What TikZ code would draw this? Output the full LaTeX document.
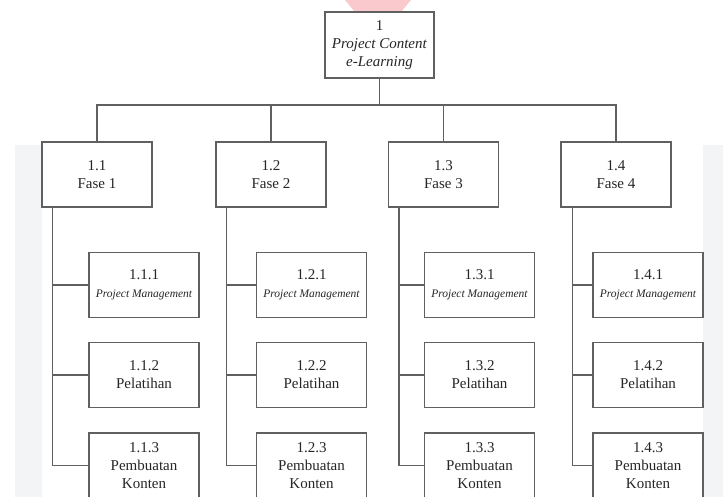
\documentclass[tikz,border=0pt]{standalone}
\usepackage{fontspec}
\setmainfont{Liberation Serif}
\usepackage{tikz}
\usepackage{color}

\definecolor{wmgray}{RGB}{243,244,246}
\definecolor{wmpink}{RGB}{249,201,205}
\definecolor{linegray}{RGB}{96,96,96}

\begin{document}
\begin{tikzpicture}[%
      x=1pt, y=-1pt,
      box/.style={draw=linegray, line width=1.2pt, fill=white,
        minimum width=110pt, minimum height=65pt, inner sep=0pt,
        align=center, text=black!85, font=\fontsize{15}{18}\selectfont},
      link/.style={color=linegray, line width=1.2pt},
      ]
      \clip (0,0) rectangle (723,497);
      \fill [color=white] (0,0) rectangle (723,497);

      % watermark
      \fill [color=wmgray] (15,145) rectangle (42,497);
      \fill [color=wmgray] (703,145) rectangle (723,497);
      \fill [color=wmpink] (345,0) -- (411,0) -- (378,40) -- cycle;

      \node [box, minimum width=109pt, minimum height=66pt] (root) at (379.5,45)
            {1\\\textit{Project Content}\\\textit{e-Learning}};

      \node [box] (f1) at (97,174.5) {1.1\\Fase 1};
      \node [box] (f2) at (271,174.5) {1.2\\Fase 2};
      \node [box] (f3) at (443.5,174.5) {1.3\\Fase 3};
      \node [box] (f4) at (616,174.5) {1.4\\Fase 4};

      \node [box] (t11) at (144,285) {1.1.1\\{\fontsize{11.5}{12}\selectfont\itshape Project Management}};
      \node [box] (t12) at (144,375) {1.1.2\\Pelatihan};
      \node [box] (t13) at (144,465.5) {1.1.3\\Pembuatan\\Konten};

      \node [box] (t21) at (311.5,285) {1.2.1\\{\fontsize{11.5}{12}\selectfont\itshape Project Management}};
      \node [box] (t22) at (311.5,375) {1.2.2\\Pelatihan};
      \node [box] (t23) at (311.5,465.5) {1.2.3\\Pembuatan\\Konten};

      \node [box] (t31) at (479.5,285) {1.3.1\\{\fontsize{11.5}{12}\selectfont\itshape Project Management}};
      \node [box] (t32) at (479.5,375) {1.3.2\\Pelatihan};
      \node [box] (t33) at (479.5,465.5) {1.3.3\\Pembuatan\\Konten};

      \node [box] (t41) at (648,285) {1.4.1\\{\fontsize{11.5}{12}\selectfont\itshape Project Management}};
      \node [box] (t42) at (648,375) {1.4.2\\Pelatihan};
      \node [box] (t43) at (648,465.5) {1.4.3\\Pembuatan\\Konten};

      % top level
      \coordinate (bar) at (379.5,105);
      \draw [link] (root.south) -- (bar);
      \draw [link] (f1.north) |- (bar) -| (f4.north);
      \draw [link] (f2.north) -- (f2.north |- bar);
      \draw [link] (f3.north) -- (f3.north |- bar);

      % phase spines
      \coordinate (s1) at ([xshift=11pt]f1.south west);
      \coordinate (s2) at ([xshift=11pt]f2.south west);
      \coordinate (s3) at ([xshift=11pt]f3.south west);
      \coordinate (s4) at ([xshift=12pt]f4.south west);

      \draw [link] (s1) |- (t13.west);
      \draw [link] (t11.west) -- (s1 |- t11.west);
      \draw [link] (t12.west) -- (s1 |- t12.west);

      \draw [link] (s2) |- (t23.west);
      \draw [link] (t21.west) -- (s2 |- t21.west);
      \draw [link] (t22.west) -- (s2 |- t22.west);

      \draw [link] (s3) |- (t33.west);
      \draw [link] (t31.west) -- (s3 |- t31.west);
      \draw [link] (t32.west) -- (s3 |- t32.west);

      \draw [link] (s4) |- (t43.west);
      \draw [link] (t41.west) -- (s4 |- t41.west);
      \draw [link] (t42.west) -- (s4 |- t42.west);
\end{tikzpicture}
\end{document}
